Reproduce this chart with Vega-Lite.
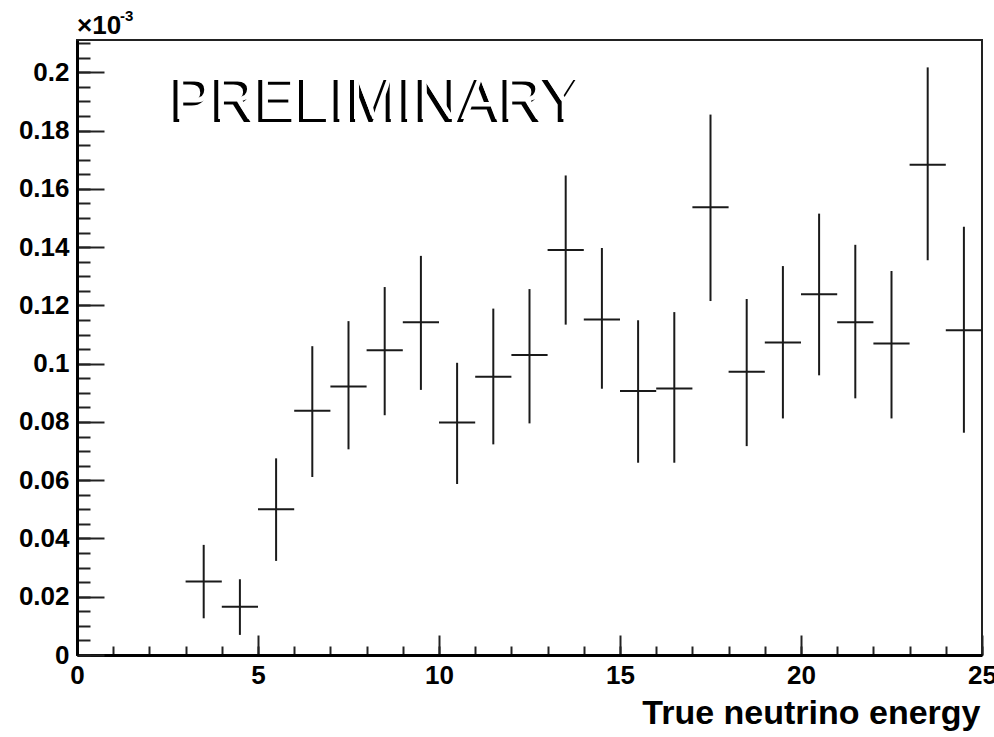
{
  "$schema": "https://vega.github.io/schema/vega-lite/v6.json",
  "width": 905,
  "height": 615,
  "autosize": "none",
  "padding": {"left": 77, "top": 40, "right": 12, "bottom": 82},
  "background": "white",
  "config": {
    "view": {"stroke": "#222", "strokeWidth": 2},
    "axis": {"grid": false, "labelFont": "Liberation Sans", "titleFont": "Liberation Sans", "labelFontWeight": "bold", "titleFontWeight": "bold", "labelColor": "#000", "titleColor": "#000", "tickColor": "#222", "domainColor": "#000", "labelFlush": false, "labelOverlap": false}
  },
  "datasets": {
    "bins": [
      {"lo": 3, "hi": 4, "center": 3.5, "rate_e3": 0.0252, "err_lo": 0.0126, "err_hi": 0.0378},
      {"lo": 4, "hi": 5, "center": 4.5, "rate_e3": 0.0166, "err_lo": 0.0069, "err_hi": 0.0260},
      {"lo": 5, "hi": 6, "center": 5.5, "rate_e3": 0.0500, "err_lo": 0.0323, "err_hi": 0.0675},
      {"lo": 6, "hi": 7, "center": 6.5, "rate_e3": 0.0838, "err_lo": 0.0611, "err_hi": 0.1060},
      {"lo": 7, "hi": 8, "center": 7.5, "rate_e3": 0.0922, "err_lo": 0.0706, "err_hi": 0.1146},
      {"lo": 8, "hi": 9, "center": 8.5, "rate_e3": 0.1046, "err_lo": 0.0823, "err_hi": 0.1263},
      {"lo": 9, "hi": 10, "center": 9.5, "rate_e3": 0.1142, "err_lo": 0.0910, "err_hi": 0.1370},
      {"lo": 10, "hi": 11, "center": 10.5, "rate_e3": 0.0798, "err_lo": 0.0587, "err_hi": 0.1003},
      {"lo": 11, "hi": 12, "center": 11.5, "rate_e3": 0.0955, "err_lo": 0.0723, "err_hi": 0.1189},
      {"lo": 12, "hi": 13, "center": 12.5, "rate_e3": 0.1030, "err_lo": 0.0795, "err_hi": 0.1256},
      {"lo": 13, "hi": 14, "center": 13.5, "rate_e3": 0.1390, "err_lo": 0.1134, "err_hi": 0.1646},
      {"lo": 14, "hi": 15, "center": 14.5, "rate_e3": 0.1152, "err_lo": 0.0914, "err_hi": 0.1397},
      {"lo": 15, "hi": 16, "center": 15.5, "rate_e3": 0.0906, "err_lo": 0.0660, "err_hi": 0.1149},
      {"lo": 16, "hi": 17, "center": 16.5, "rate_e3": 0.0915, "err_lo": 0.0660, "err_hi": 0.1177},
      {"lo": 17, "hi": 18, "center": 17.5, "rate_e3": 0.1537, "err_lo": 0.1215, "err_hi": 0.1855},
      {"lo": 18, "hi": 19, "center": 18.5, "rate_e3": 0.0972, "err_lo": 0.0717, "err_hi": 0.1222},
      {"lo": 19, "hi": 20, "center": 19.5, "rate_e3": 0.1073, "err_lo": 0.0812, "err_hi": 0.1335},
      {"lo": 20, "hi": 21, "center": 20.5, "rate_e3": 0.1238, "err_lo": 0.0960, "err_hi": 0.1515},
      {"lo": 21, "hi": 22, "center": 21.5, "rate_e3": 0.1142, "err_lo": 0.0881, "err_hi": 0.1408},
      {"lo": 22, "hi": 23, "center": 22.5, "rate_e3": 0.1069, "err_lo": 0.0812, "err_hi": 0.1318},
      {"lo": 23, "hi": 24, "center": 23.5, "rate_e3": 0.1683, "err_lo": 0.1355, "err_hi": 0.2017},
      {"lo": 24, "hi": 25, "center": 24.5, "rate_e3": 0.1115, "err_lo": 0.0763, "err_hi": 0.1470}
    ],
    "notes": [
      {"energy": 2.53, "rate_e3": 0.183, "label": "PRELIMINARY"}
    ],
    "multiplier": [
      {"energy": 0.0, "rate_e3": 0.2131, "label": "×10"}
    ],
    "exponent": [
      {"energy": 1.19, "rate_e3": 0.2176, "label": "-3"}
    ]
  },
  "layer": [
    {
      "data": {"name": "bins"},
      "mark": {"type": "rule", "strokeWidth": 2, "color": "#1a1a1a"},
      "encoding": {
        "x": {"field": "center", "type": "quantitative", "scale": {"domain": [0, 25], "nice": false, "zero": false},
          "axis": {"orient": "bottom", "values": [0,1,2,3,4,5,6,7,8,9,10,11,12,13,14,15,16,17,18,19,20,21,22,23,24,25], "labels": false, "domain": false, "tickSize": -9, "tickWidth": 2, "title": null}},
        "y": {"field": "err_lo", "type": "quantitative", "scale": {"domain": [0, 0.2111], "nice": false, "zero": false},
          "axis": {"orient": "left", "values": [0,0.005,0.01,0.015,0.02,0.025,0.03,0.035,0.04,0.045,0.05,0.055,0.06,0.065,0.07,0.075,0.08,0.085,0.09,0.095,0.1,0.105,0.11,0.115,0.12,0.125,0.13,0.135,0.14,0.145,0.15,0.155,0.16,0.165,0.17,0.175,0.18,0.185,0.19,0.195,0.2,0.205,0.21], "labels": false, "domain": false, "tickSize": -13, "tickWidth": 2, "title": null}},
        "y2": {"field": "err_hi"}
      }
    },
    {
      "data": {"name": "bins"},
      "mark": {"type": "rule", "strokeWidth": 2, "color": "#1a1a1a"},
      "encoding": {
        "x": {"field": "lo", "type": "quantitative",
          "axis": {"orient": "bottom", "values": [0,5,10,15,20,25], "format": "d", "labelFontSize": 26, "labelPadding": 27, "domainWidth": 3, "tickSize": -20, "tickWidth": 2, "title": "True neutrino energy", "titleFontSize": 34, "titleAnchor": "end", "titleAlign": "right", "titleBaseline": "alphabetic", "titleX": 903, "titleY": 68}},
        "x2": {"field": "hi"},
        "y": {"field": "rate_e3", "type": "quantitative",
          "axis": {"orient": "left", "values": [0,0.02,0.04,0.06,0.08,0.1,0.12,0.14,0.16,0.18,0.2], "format": ".2~f", "labelFontSize": 26, "labelPadding": 35, "domainWidth": 3, "tickSize": -27, "tickWidth": 2, "title": null}}
      }
    },
    {
      "data": {"name": "multiplier"},
      "mark": {"type": "text", "font": "Liberation Sans", "fontWeight": "bold", "fontSize": 26, "align": "left", "baseline": "alphabetic", "color": "#000"},
      "encoding": {
        "x": {"field": "energy", "type": "quantitative", "axis": null},
        "y": {"field": "rate_e3", "type": "quantitative", "axis": null},
        "text": {"field": "label"}
      }
    },
    {
      "data": {"name": "exponent"},
      "mark": {"type": "text", "font": "Liberation Sans", "fontWeight": "bold", "fontSize": 15, "align": "left", "baseline": "alphabetic", "color": "#000"},
      "encoding": {
        "x": {"field": "energy", "type": "quantitative", "axis": null},
        "y": {"field": "rate_e3", "type": "quantitative", "axis": null},
        "text": {"field": "label"}
      }
    },
    {
      "data": {"name": "notes"},
      "mark": {"type": "text", "font": "Liberation Sans", "fontSize": 61, "align": "left", "baseline": "alphabetic", "color": "#000"},
      "encoding": {
        "x": {"field": "energy", "type": "quantitative", "axis": null},
        "y": {"field": "rate_e3", "type": "quantitative", "axis": null},
        "text": {"field": "label"}
      }
    },
    {
      "data": {"name": "notes"},
      "mark": {"type": "text", "font": "Liberation Sans", "fontSize": 61, "align": "left", "baseline": "alphabetic", "color": "#fff", "dx": 4, "dy": -3},
      "encoding": {
        "x": {"field": "energy", "type": "quantitative", "axis": null},
        "y": {"field": "rate_e3", "type": "quantitative", "axis": null},
        "text": {"field": "label"}
      }
    }
  ],
  "resolve": {"axis": {"x": "independent", "y": "independent"}}
}
